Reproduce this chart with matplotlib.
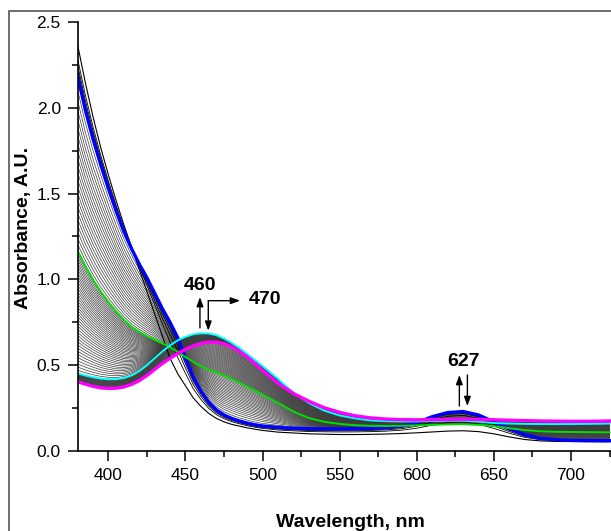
import numpy as np
import matplotlib
matplotlib.use("Agg")
import matplotlib.pyplot as plt
from matplotlib.patches import Rectangle
from matplotlib.ticker import MultipleLocator

plt.rcParams['font.family'] = ['Liberation Sans', 'DejaVu Sans']

# ------------------ Data ------------------
wavelength = [380, 385, 390, 395, 400, 405, 410, 415, 420, 425, 430, 435, 440,
              445, 450, 455, 460, 465, 470, 475, 480, 485, 490, 495, 500,
              510, 520, 530, 540, 550, 560, 570, 580, 590, 600, 610, 620, 630,
              640, 650, 660, 670, 680, 690, 700, 710, 720, 725]

# first spectrum (black)
spec_start = [2.37, 2.15, 1.95, 1.77, 1.61, 1.46, 1.32, 1.19, 1.06, 0.93, 0.80, 0.67, 0.54,
              0.45, 0.38, 0.31, 0.26, 0.22, 0.19, 0.17, 0.155, 0.145, 0.135, 0.127, 0.12,
              0.11, 0.105, 0.10, 0.098, 0.096, 0.096, 0.097, 0.099, 0.102, 0.106, 0.111, 0.116, 0.118,
              0.113, 0.100, 0.082, 0.067, 0.059, 0.056, 0.055, 0.054, 0.054, 0.054]

# blue spectrum (627 nm band at max)
spec_blue = [2.19, 1.99, 1.82, 1.67, 1.53, 1.40, 1.28, 1.18, 1.09, 1.01, 0.92, 0.83, 0.75,
             0.66, 0.54, 0.43, 0.35, 0.285, 0.24, 0.21, 0.19, 0.175, 0.163, 0.153, 0.146,
             0.138, 0.133, 0.13, 0.129, 0.129, 0.13, 0.132, 0.136, 0.145, 0.165, 0.20, 0.224, 0.23,
             0.21, 0.17, 0.13, 0.095, 0.074, 0.066, 0.062, 0.061, 0.06, 0.06]

# green spectrum (intermediate)
spec_green = [1.17, 1.08, 1.00, 0.93, 0.87, 0.815, 0.765, 0.725, 0.695, 0.67, 0.648, 0.627, 0.605,
              0.578, 0.548, 0.52, 0.495, 0.475, 0.458, 0.44, 0.42, 0.398, 0.375, 0.352, 0.328,
              0.28, 0.23, 0.192, 0.17, 0.158, 0.15, 0.147, 0.146, 0.147, 0.149, 0.152, 0.155, 0.156,
              0.152, 0.145, 0.133, 0.122, 0.115, 0.112, 0.111, 0.11, 0.109, 0.109]

# cyan spectrum (460 nm at max)
spec_cyan = [0.453, 0.44, 0.43, 0.422, 0.418, 0.418, 0.425, 0.44, 0.465, 0.50, 0.54, 0.58, 0.615,
             0.645, 0.665, 0.68, 0.686, 0.685, 0.675, 0.655, 0.63, 0.60, 0.565, 0.53, 0.495,
             0.42, 0.34, 0.28, 0.235, 0.207, 0.19, 0.178, 0.174, 0.172, 0.172, 0.174, 0.176, 0.176,
             0.171, 0.163, 0.16, 0.158, 0.157, 0.157, 0.157, 0.158, 0.159, 0.16]

# final spectrum (magenta, 470 nm)
spec_magenta = [0.404, 0.39, 0.377, 0.368, 0.365, 0.366, 0.373, 0.388, 0.41, 0.44, 0.475, 0.51, 0.54,
                0.568, 0.592, 0.612, 0.627, 0.635, 0.634, 0.625, 0.607, 0.58, 0.548, 0.51, 0.47,
                0.395, 0.335, 0.29, 0.252, 0.225, 0.205, 0.193, 0.186, 0.183, 0.182, 0.183, 0.184, 0.185,
                0.184, 0.182, 0.179, 0.177, 0.175, 0.174, 0.173, 0.173, 0.174, 0.175]

# recorded spectra between the highlighted ones
n_phase1 = [0.45, 0.65, 0.8, 0.9]   # black lines, start -> blue
n_blue_green = 24
n_green_cyan = 40
n_cyan_magenta = 25

x_ticks = [400, 450, 500, 550, 600, 650, 700]
y_ticks = [0.0, 0.5, 1.0, 1.5, 2.0, 2.5]

# ------------------ Figure ------------------
fig = plt.figure(figsize=(6.11, 5.31), dpi=100)

# outer frame (cropped on the right and bottom)
frame = Rectangle((9 / 611, -0.05), 1.2, 1 - 10.5 / 531 + 0.05, transform=fig.transFigure,
                  fill=False, edgecolor='#555555', lw=1.2)
fig.patches.append(frame)

ax = fig.add_axes([77.5 / 611, 80 / 531, 547.5 / 611, 429 / 531])

wl = np.array(wavelength)
s0 = np.array(spec_start)
sb = np.array(spec_blue)
sg = np.array(spec_green)
sc = np.array(spec_cyan)
sm = np.array(spec_magenta)

gray = '#3c3c3c'

# cyan -> magenta
for t in np.linspace(0, 1, n_cyan_magenta)[1:-1]:
    ax.plot(wl, sc + t * (sm - sc), color=gray, lw=0.5)

# green -> cyan
for t in np.linspace(0, 1, n_green_cyan)[1:-1]:
    ax.plot(wl, sg + t * (sc - sg), color=gray, lw=0.5)

# blue -> green
for t in (np.linspace(0, 1, n_blue_green) ** 0.8)[1:-1]:
    ax.plot(wl, sb + t * (sg - sb), color=gray, lw=0.5)

# start -> blue (black)
ax.plot(wl, s0, color='black', lw=0.8)
for t in n_phase1:
    ax.plot(wl, s0 + t * (sb - s0), color='black', lw=0.6)

ax.plot(wl, sb, color='#0000ff', lw=2.4)
ax.plot(wl, sg, color='#00e000', lw=1.4)
ax.plot(wl, sc, color='#00ffff', lw=1.4)
ax.plot(wl, sm, color='#ff00ff', lw=2.4)

ax.set_xlim(380, 735)
ax.set_ylim(0, 2.5)
ax.set_xticks(x_ticks)
ax.set_yticks(y_ticks)
ax.set_yticklabels([f"{v:.1f}" for v in y_ticks])
ax.xaxis.set_minor_locator(MultipleLocator(25))
ax.yaxis.set_minor_locator(MultipleLocator(0.25))
ax.tick_params(which='major', direction='out', length=7, width=1.1, labelsize=12.5, pad=5)
ax.tick_params(which='minor', direction='out', length=4, width=1.1)
ax.spines['top'].set_visible(False)
ax.spines['right'].set_visible(False)
ax.spines['left'].set_linewidth(1.2)
ax.spines['bottom'].set_linewidth(1.2)

fig.text(350.5 / 611, 1 - 527 / 531, "Wavelength, nm", ha='center', va='baseline',
         fontsize=14, fontweight='bold')
fig.text(23.5 / 611, 1 - 228 / 531, "Absorbance, A.U.", ha='center', va='center',
         rotation=90, fontsize=14, fontweight='bold')

# ------------------ Annotations ------------------
arrow = dict(arrowstyle='-|>,head_length=0.55,head_width=0.2', color='black', lw=1,
             shrinkA=0, shrinkB=0)

ax.text(459.4, 0.967, "460", ha='center', va='center', fontsize=14, fontweight='bold')
ax.annotate("", xy=(459.4, 0.897), xytext=(459.4, 0.717), arrowprops=arrow)
ax.annotate("", xy=(464.8, 0.701), xytext=(464.8, 0.876), arrowprops=arrow)
ax.annotate("", xy=(485.4, 0.876), xytext=(464.8, 0.876), arrowprops=arrow)
ax.text(501.6, 0.88, "470", ha='center', va='center', fontsize=14, fontweight='bold')

ax.text(630.2, 0.524, "627", ha='center', va='center', fontsize=14, fontweight='bold')
ax.annotate("", xy=(627.6, 0.443), xytext=(627.6, 0.262), arrowprops=arrow)
ax.annotate("", xy=(632.8, 0.262), xytext=(632.8, 0.443), arrowprops=arrow)

fig.savefig("out.png", dpi=100)
